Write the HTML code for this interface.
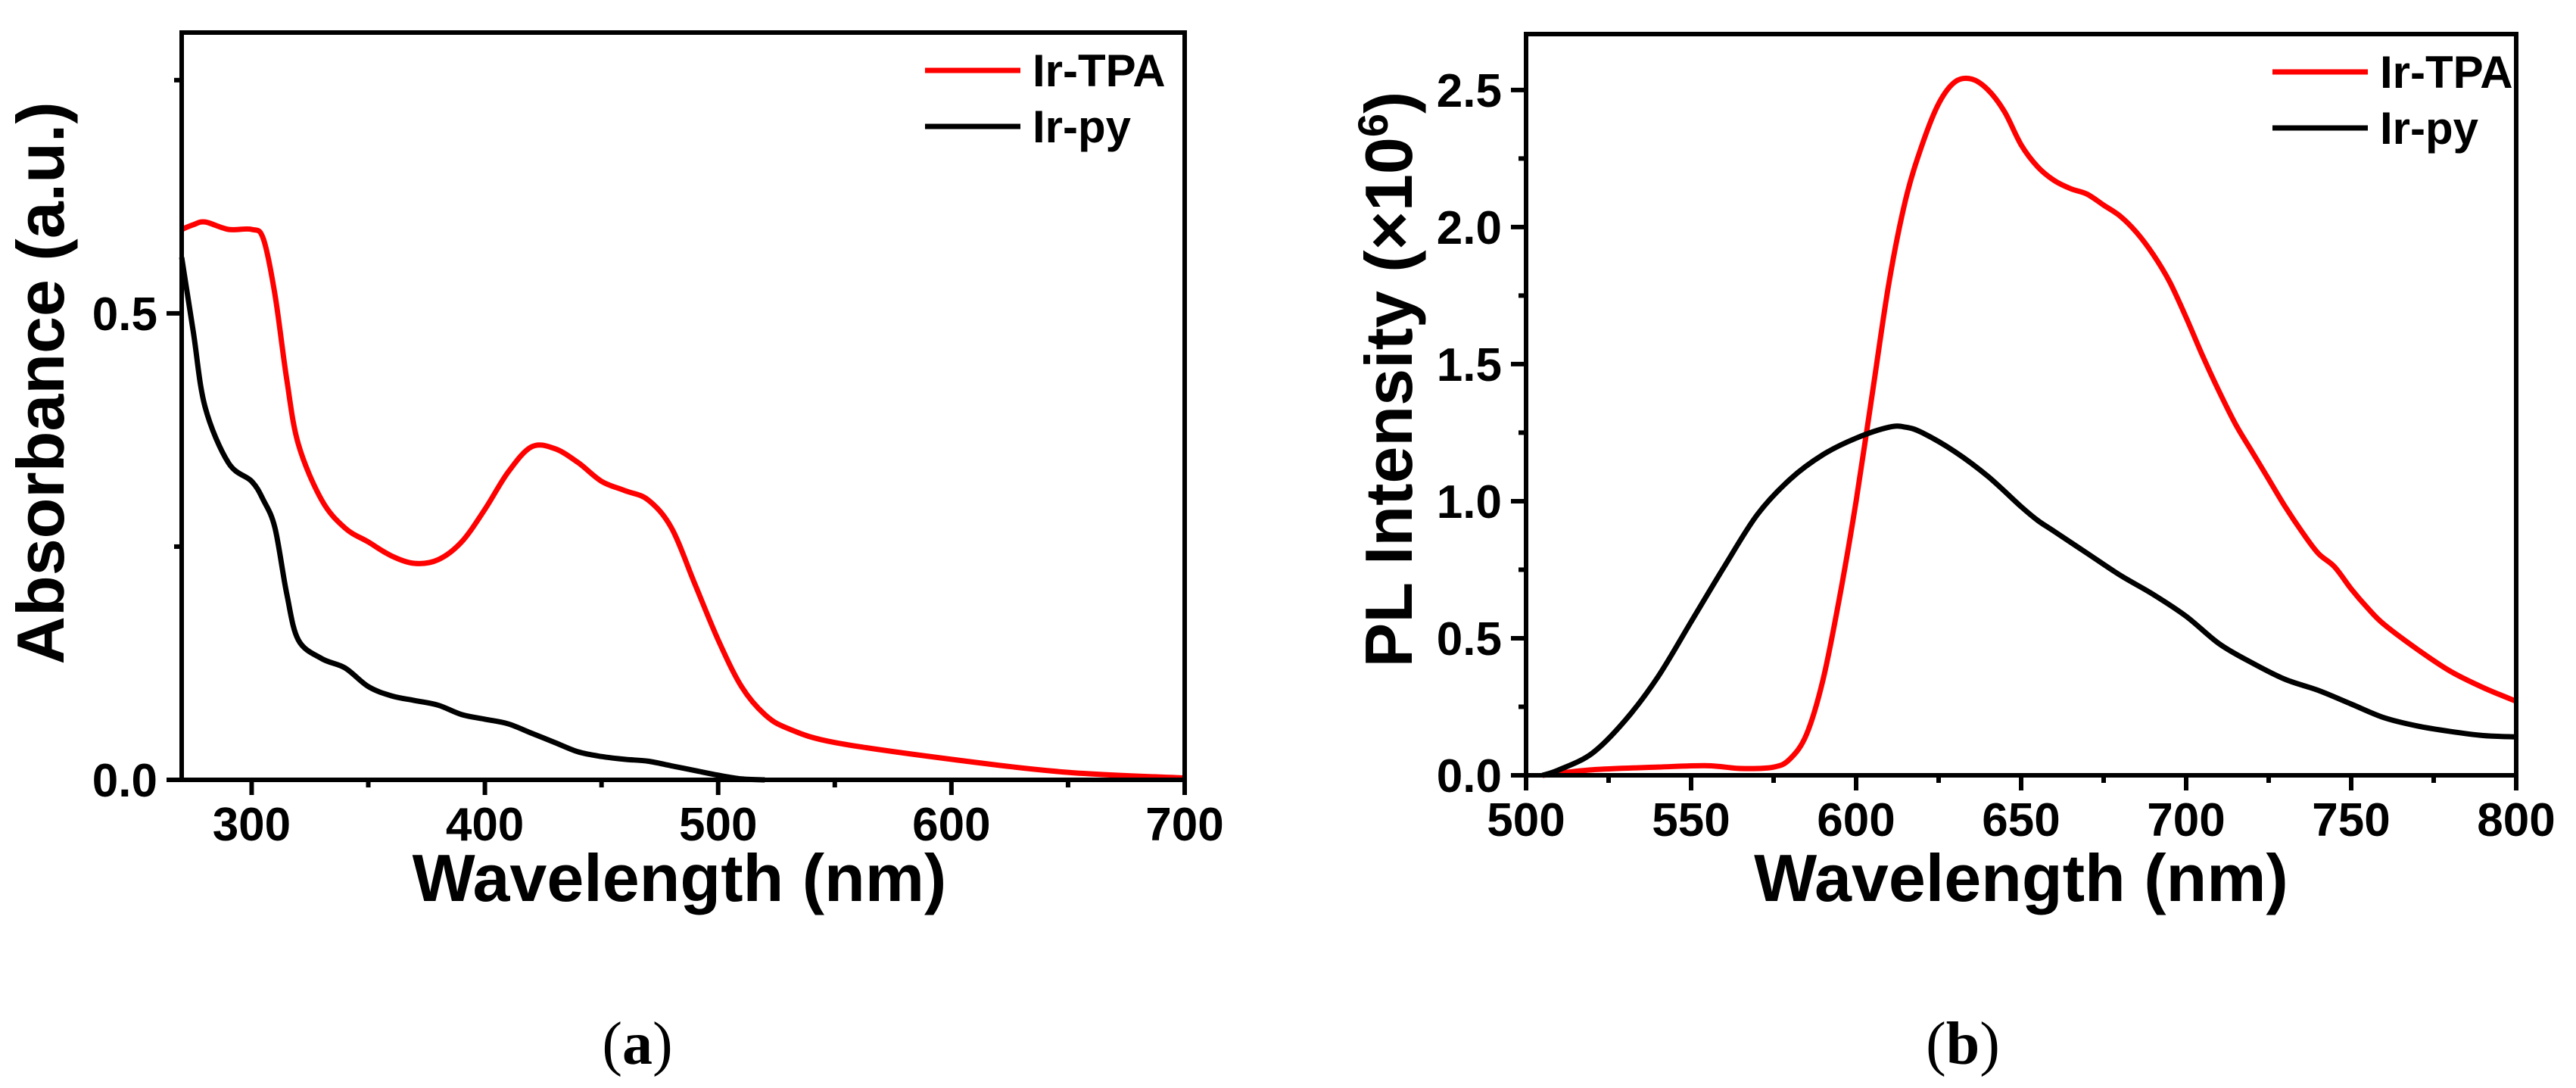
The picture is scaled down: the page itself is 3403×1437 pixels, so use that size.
<!DOCTYPE html>
<html><head><meta charset="utf-8"><style>
html,body{margin:0;padding:0;background:#fff;}
svg{display:block;}
text{font-family:"Liberation Sans",Arial,sans-serif;}
</style></head>
<body>
<svg id="fig" width="3403" height="1437" viewBox="0 0 3403 1437" xmlns="http://www.w3.org/2000/svg">
<rect width="3403" height="1437" fill="#fff"/>
<g id="pa"></g>
<g id="pb"></g>
</svg>
<script>
// Panel (a) data
const aX = [270,275,280,290,300,305,310,315,320,330,340,350,360,370,380,390,400,410,420,430,440,450,460,470,480,490,500,510,520,530,550,600,650,700];
const aTPA = [0.59,0.595,0.598,0.59,0.59,0.58,0.52,0.43,0.36,0.30,0.27,0.255,0.24,0.232,0.236,0.255,0.29,0.33,0.357,0.355,0.34,0.32,0.31,0.30,0.27,0.21,0.15,0.10,0.07,0.055,0.04,0.022,0.008,0.002];
const aPyX = [270,275,280,290,300,305,310,315,320,330,340,350,360,370,380,390,400,410,420,430,440,450,460,470,480,490,500,510,520];
const aPy = [0.56,0.48,0.40,0.34,0.32,0.30,0.27,0.20,0.15,0.13,0.12,0.10,0.09,0.085,0.08,0.07,0.065,0.06,0.05,0.04,0.03,0.025,0.022,0.02,0.015,0.01,0.005,0.001,0];
const aXTicks = [300,400,500,600,700];
const aYTicks = [0.0,0.5];
const aYLabels = ["0.0","0.5"];
// Panel (b) data
const bX = [505,520,540,555,565,575,580,585,590,595,600,605,610,615,620,625,630,635,640,645,650,655,660,665,670,675,680,685,690,695,700,705,710,715,720,725,730,735,740,745,750,755,760,770,780,790,800];
const bTPA = [0.0,0.02,0.03,0.035,0.025,0.03,0.06,0.15,0.35,0.65,1.0,1.4,1.8,2.1,2.3,2.45,2.53,2.54,2.5,2.42,2.3,2.22,2.17,2.14,2.12,2.08,2.04,1.98,1.9,1.8,1.67,1.53,1.4,1.28,1.18,1.08,0.98,0.89,0.81,0.76,0.68,0.61,0.55,0.46,0.38,0.32,0.27];
const bPyX = [505,510,520,530,540,550,560,570,580,590,600,610,615,620,630,640,650,655,660,670,680,690,700,710,720,730,740,750,760,770,780,790,800];
const bPy = [0.0,0.02,0.08,0.2,0.36,0.56,0.76,0.95,1.08,1.17,1.23,1.27,1.27,1.25,1.18,1.09,0.98,0.93,0.89,0.81,0.73,0.66,0.58,0.48,0.41,0.35,0.31,0.26,0.21,0.18,0.16,0.145,0.14];
const bXTicks = [500,550,600,650,700,750,800];
const bYTicks = [0.0,0.5,1.0,1.5,2.0,2.5];
const bYLabels = ["0.0","0.5","1.0","1.5","2.0","2.5"];

const NS="http://www.w3.org/2000/svg";
function mk(parent,tag,attrs,txt){const e=document.createElementNS(NS,tag);for(const k in attrs)e.setAttribute(k,attrs[k]);if(txt!==undefined)e.textContent=txt;parent.appendChild(e);return e;}
function smooth(pts){let d="M"+pts[0][0]+","+pts[0][1];for(let i=0;i<pts.length-1;i++){const p0=pts[i-1]||pts[i],p1=pts[i],p2=pts[i+1],p3=pts[i+2]||p2;d+=" C"+(p1[0]+(p2[0]-p0[0])/6)+","+(p1[1]+(p2[1]-p0[1])/6)+" "+(p2[0]-(p3[0]-p1[0])/6)+","+(p2[1]-(p3[1]-p1[1])/6)+" "+p2[0]+","+p2[1];}return d;}

function panel(g,cfg){
  const sx=v=>cfg.L+(v-cfg.x0)/(cfg.x1-cfg.x0)*(cfg.R-cfg.L);
  const sy=v=>cfg.B-(v-cfg.y0)/(cfg.y1-cfg.y0)*(cfg.B-cfg.T);
  cfg.series.forEach(s=>{
    const pts=s.x.map((x,i)=>[sx(x),sy(s.y[i])]);
    const p=mk(g,"path",{d:smooth(pts),fill:"none",stroke:s.color,"stroke-width":cfg.lw,"stroke-linejoin":"round"});
    
    
  });
  const fr=mk(g,"rect",{x:cfg.L,y:cfg.T,width:cfg.R-cfg.L,height:cfg.B-cfg.T,fill:"none",stroke:"#000","stroke-width":6});
  
  
  cfg.xTicks.forEach(v=>{
    mk(g,"line",{x1:sx(v),x2:sx(v),y1:cfg.B,y2:cfg.B+20,stroke:"#000","stroke-width":6});
    const t=mk(g,"text",{x:sx(v),y:cfg.B+80,"text-anchor":"middle","font-size":62,"font-weight":"bold"},String(v));
    
    
  });
  for(let i=0;i<cfg.xTicks.length-1;i++){const m=(cfg.xTicks[i]+cfg.xTicks[i+1])/2;mk(g,"line",{x1:sx(m),x2:sx(m),y1:cfg.B,y2:cfg.B+10,stroke:"#000","stroke-width":6});}
  cfg.yTicks.forEach((v,i)=>{
    mk(g,"line",{x1:cfg.L-20,x2:cfg.L,y1:sy(v),y2:sy(v),stroke:"#000","stroke-width":6});
    const t=mk(g,"text",{x:cfg.L-32,y:sy(v)+22,"text-anchor":"end","font-size":62,"font-weight":"bold"},cfg.yLabels[i]);
    
    
  });
  cfg.minorY.forEach(v=>mk(g,"line",{x1:cfg.L-10,x2:cfg.L,y1:sy(v),y2:sy(v),stroke:"#000","stroke-width":6}));
  const xt=mk(g,"text",{x:(cfg.L+cfg.R)/2+cfg.xtOff,y:1190,"text-anchor":"middle","font-size":88,"font-weight":"bold"},"Wavelength (nm)");
  
  
  const yt=mk(g,"text",{x:0,y:0,"text-anchor":"middle","font-size":88,"font-weight":"bold",transform:"translate("+cfg.ytX+","+cfg.ytY+") rotate(-90)"});
  yt.innerHTML=cfg.ytitle;
  
  
  const lg=mk(g,"g",{});
  
  
  cfg.series.forEach((s,i)=>{
    const yy=cfg.legY+i*74;
    mk(lg,"line",{x1:cfg.legX,x2:cfg.legX+126,y1:yy,y2:yy,stroke:s.color,"stroke-width":7});
    const t=mk(lg,"text",{x:cfg.legX+142,y:yy+21,"font-size":60,"font-weight":"bold"},s.label);
    
    
  });
  const cap=mk(g,"text",{x:cfg.capX,y:1405,"text-anchor":"middle","font-size":80,style:"font-family:'Liberation Serif',serif"});
  cap.innerHTML='(<tspan font-weight="bold">'+cfg.cap+'</tspan>)';
  
  
}
panel(document.getElementById("pa"),{L:240,R:1565,T:43,B:1030,x0:270,x1:700,y0:0,y1:0.801,lw:7,
  xTicks:aXTicks,yTicks:aYTicks,yLabels:aYLabels,minorY:[0.25,0.75],xtOff:-5,
  ytX:84,ytY:506,ytitle:"Absorbance (a.u.)",legX:1222,legY:93,capX:842,cap:"a",
  series:[{name:"ir-tpa",label:"Ir-TPA",color:"#ff0000",x:aX,y:aTPA},{name:"ir-py",label:"Ir-py",color:"#000",x:aPyX,y:aPy}]});
panel(document.getElementById("pb"),{L:2016,R:3324,T:45,B:1024,x0:500,x1:800,y0:0,y1:2.704,lw:7,
  xTicks:bXTicks,yTicks:bYTicks,yLabels:bYLabels,minorY:[0.25,0.75,1.25,1.75,2.25],xtOff:0,
  ytX:1865,ytY:501,ytitle:'PL Intensity (×10<tspan font-size="56" dy="-32">6</tspan><tspan dy="32">)</tspan>',legX:3002,legY:95,capX:2593,cap:"b",
  series:[{name:"ir-tpa",label:"Ir-TPA",color:"#ff0000",x:bX,y:bTPA},{name:"ir-py",label:"Ir-py",color:"#000",x:bPyX,y:bPy}]});
</script>
</body></html>
